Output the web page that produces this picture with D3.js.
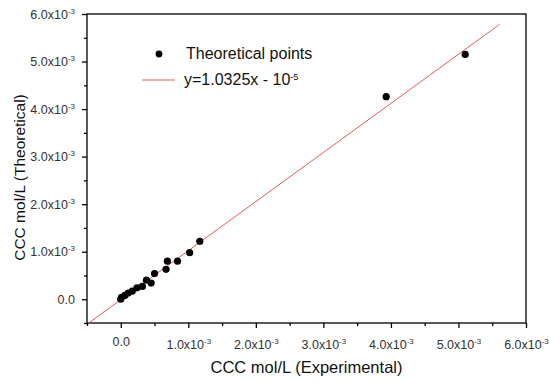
<!DOCTYPE html>
<html>
<head>
<meta charset="utf-8">
<script src="https://cdn.jsdelivr.net/npm/d3@7"></script>
<style>
  body { margin: 0; background: #fff; }
  text { font-family: "Liberation Sans", Arial, sans-serif; }
</style>
</head>
<body>
<svg id="chart" width="550" height="382"></svg>
<script>
// experimental vs theoretical CCC (mol/L)
const expX = [0.0, 0.01, 0.06, 0.11, 0.17, 0.24, 0.32, 0.38, 0.45, 0.50, 0.67, 0.69, 0.84, 1.02, 1.17, 3.93, 5.10].map(v => v * 1e-3);
const theoY = [0.0, 0.04, 0.08, 0.13, 0.17, 0.24, 0.27, 0.40, 0.34, 0.54, 0.63, 0.80, 0.80, 0.98, 1.22, 4.26, 5.15].map(v => v * 1e-3);
const fitSlope = 1.0325;
const fitIntercept = -1e-5;
const fitRange = [-0.5e-3, 5.61e-3];
const majorTicks = [0, 1e-3, 2e-3, 3e-3, 4e-3, 5e-3, 6e-3];
const minorTicks = [-0.5e-3, 0.5e-3, 1.5e-3, 2.5e-3, 3.5e-3, 4.5e-3, 5.5e-3];

const margins = { l: 87, t: 14, r: 24, b: 59 };
const width = 550, height = 382;
const plotwidth = width - margins.l - margins.r;
const plotheight = height - margins.t - margins.b;

const svg = d3.select('#chart');

const xScale = d3.scaleLinear().domain([-0.5e-3, 6e-3]).range([0, plotwidth]);
const yScale = d3.scaleLinear().domain([-0.5e-3, 6e-3]).range([plotheight, 0]);

// label like 1.0x10^-3
const setLabel = (sel, shift) => {
	sel.each(function (d) {
		const t = d3.select(this);
		t.text(null);
		if (Math.abs(d) < 1e-12) {
			t.append('tspan').text('0.0');
		} else {
			t.attr('transform', `translate(0, ${shift})`);
			t.append('tspan').text((d * 1e3).toFixed(1) + 'x10');
			t.append('tspan').attr('dy', '-0.6em').style('font-size', '8px').text('-3');
		}
	});
};

const defs = svg.append('defs');
defs.append('clipPath').attr('id', 'clip')
	.append('rect').attr('width', plotwidth).attr('height', plotheight);

const plotg = svg.append('g').attr('transform', `translate(${margins.l}, ${margins.t})`);

// minor ticks
svg.append('g')
	.attr('class', 'xminor')
	.attr('transform', `translate(${margins.l}, ${margins.t + plotheight})`)
	.call(d3.axisBottom(xScale).tickValues(minorTicks).tickSize(3).tickFormat(''));
svg.append('g')
	.attr('class', 'yminor')
	.attr('transform', `translate(${margins.l}, ${margins.t})`)
	.call(d3.axisLeft(yScale).tickValues(minorTicks).tickSize(3).tickFormat(''));

const xAxisG = svg.append('g')
	.attr('class', 'xaxisg')
	.attr('transform', `translate(${margins.l}, ${margins.t + plotheight})`)
	.call(d3.axisBottom(xScale).tickValues(majorTicks).tickSize(5).tickPadding(9));
xAxisG.selectAll('text').call(setLabel, 3);

const yAxisG = svg.append('g')
	.attr('class', 'yaxisg')
	.attr('transform', `translate(${margins.l}, ${margins.t})`)
	.call(d3.axisLeft(yScale).tickValues(majorTicks).tickSize(5).tickPadding(7));
yAxisG.selectAll('text').call(setLabel, 0);

svg.selectAll('.tick text').style('font-size', '12.5px').attr('fill', '#333');
svg.selectAll('.domain').remove();
svg.selectAll('.tick line').attr('stroke', '#000').attr('stroke-width', 1.3);

// frame
plotg.append('rect')
	.attr('width', plotwidth).attr('height', plotheight)
	.attr('fill', 'none').attr('stroke', '#000').attr('stroke-width', 1.3);

// fit line
const line = d3.line().x(d => xScale(d)).y(d => yScale(fitSlope * d + fitIntercept));
plotg.append('path')
	.datum(fitRange)
	.attr('clip-path', 'url(#clip)')
	.attr('d', line)
	.attr('fill', 'none')
	.attr('stroke', '#e8595a')
	.attr('stroke-width', 1);

// points
plotg.selectAll('circle')
	.data(expX)
	.join('circle')
	.attr('cx', d => xScale(d))
	.attr('cy', (d, i) => yScale(theoY[i]))
	.attr('r', 3.6)
	.attr('fill', '#000');

// legend
const legend = svg.append('g').attr('transform', 'translate(142, 54)');
legend.append('circle').attr('cx', 17).attr('cy', 0).attr('r', 3.4).attr('fill', '#000');
legend.append('text').attr('x', 44).attr('y', 5).style('font-size', '16px').attr('fill', '#111')
	.text('Theoretical points');
legend.append('line').attr('x1', 0).attr('x2', 33).attr('y1', 26).attr('y2', 26)
	.attr('stroke', '#e8595a').attr('stroke-width', 1);
const fitText = legend.append('text').attr('x', 42).attr('y', 31).style('font-size', '16px').attr('fill', '#111');
fitText.append('tspan').text('y=1.0325x - 10');
fitText.append('tspan').attr('dy', '-0.6em').style('font-size', '9px').text('-5');

// axis titles
svg.append('text')
	.attr('x', margins.l + plotwidth / 2)
	.attr('y', 373)
	.attr('text-anchor', 'middle')
	.style('font-size', '16.5px')
	.attr('fill', '#111')
	.text('CCC mol/L (Experimental)');

svg.append('text')
	.attr('transform', 'rotate(-90)')
	.attr('x', -177.5)
	.attr('y', 25)
	.attr('text-anchor', 'middle')
	.style('font-size', '15.5px')
	.attr('fill', '#111')
	.text('CCC mol/L (Theoretical)');
</script>
</body>
</html>
